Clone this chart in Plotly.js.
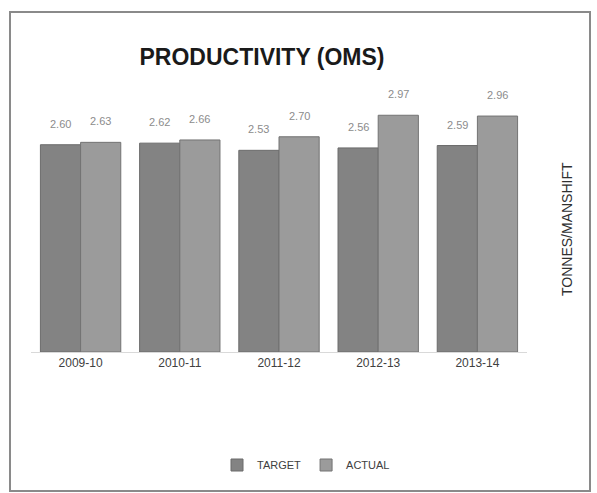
<!DOCTYPE html>
<html>
<head>
<meta charset="utf-8">
<script src="https://cdn.plot.ly/plotly-3.0.1.min.js"></script>
<style>
  html, body { margin: 0; padding: 0; background: #ffffff; }
  #chart { width: 597px; height: 493px; }
</style>
</head>
<body>
<div id="chart"></div>
<script>
// Productivity (output per man-shift), target vs actual by year
const years = ['2009-10', '2010-11', '2011-12', '2012-13', '2013-14'];
const target = [2.60, 2.62, 2.53, 2.56, 2.59];
const actual = [2.63, 2.66, 2.70, 2.97, 2.96];
const seriesNames = ['TARGET', 'ACTUAL'];

const W = 597, H = 493;
const margin = { l: 31, r: 70, t: 73, b: 141 };
const plotW = W - margin.l - margin.r;
const plotH = H - margin.t - margin.b;
const px = x => (x - margin.l) / plotW;          // pixel -> paper x
const py = y => (H - margin.b - y) / plotH;      // pixel -> paper y

const BARGAP = 0.19;
const slot = plotW / years.length;               // width of one category
const barW = slot * (1 - BARGAP) / 2;            // width of one bar in a pair

const labelFont = { family: 'Liberation Sans, Arial, sans-serif', size: 11, color: '#8c8c8c' };

const traces = [
  {
    type: 'bar', name: seriesNames[0], x: years, y: target,
    marker: { color: '#838383', line: { color: '#6b6b6b', width: 1 } },
    hoverinfo: 'x+y'
  },
  {
    type: 'bar', name: seriesNames[1], x: years, y: actual,
    marker: { color: '#9b9b9b', line: { color: '#737373', width: 1 } },
    hoverinfo: 'x+y'
  }
];

// value labels sitting a little above each bar
const valueLabels = [];
[target, actual].forEach((series, s) => {
  series.forEach((v, i) => {
    valueLabels.push({
      text: v.toFixed(2), x: years[i], y: v, xref: 'x', yref: 'y',
      xshift: (s === 0 ? -1 : 1) * barW / 2, yshift: 13,
      xanchor: 'center', yanchor: 'bottom', showarrow: false,
      font: labelFont
    });
  });
});

const layout = {
  width: W, height: H,
  margin: margin,
  paper_bgcolor: '#ffffff', plot_bgcolor: '#ffffff',
  barmode: 'group', bargap: BARGAP, bargroupgap: 0,
  showlegend: true,
  font: { family: 'Liberation Sans, Arial, sans-serif', color: '#404040' },
  title: {
    text: '<b>PRODUCTIVITY (OMS)</b>',
    font: { family: 'Liberation Sans Narrow, Liberation Sans, Arial, sans-serif', size: 23, color: '#1a1a1a' },
    x: px(262), xanchor: 'center', xref: 'paper',
    y: 1 - 57 / H, yanchor: 'middle'
  },
  xaxis: {
    type: 'category',
    showgrid: false, zeroline: false,
    showline: true, linecolor: '#d9d9d9', linewidth: 1,
    ticks: '', ticklen: 0,
    tickfont: { size: 12, color: '#404040' }
  },
  yaxis: {
    range: [0, 3.5],
    showgrid: false, zeroline: false, showline: false,
    showticklabels: false, ticks: ''
  },
  legend: {
    orientation: 'h',
    x: px(306), xanchor: 'center',
    y: py(465), yanchor: 'middle',
    font: { size: 11, color: '#404040' },
    itemwidth: 30, traceorder: 'normal'
  },
  annotations: valueLabels.concat([
    {
      text: 'TONNES/MANSHIFT', textangle: -90,
      xref: 'paper', yref: 'paper',
      x: px(567), y: py(229), xanchor: 'center', yanchor: 'middle',
      showarrow: false,
      font: { size: 14, color: '#303030' }
    }
  ]),
  shapes: [
    {
      type: 'rect', xref: 'paper', yref: 'paper',
      x0: px(10), x1: px(590), y0: py(491), y1: py(12),
      line: { color: '#8a8a8a', width: 2 }, fillcolor: 'rgba(0,0,0,0)',
      layer: 'below'
    }
  ]
};

Plotly.newPlot('chart', traces, layout, { displayModeBar: false, staticPlot: true });
</script>
</body>
</html>
